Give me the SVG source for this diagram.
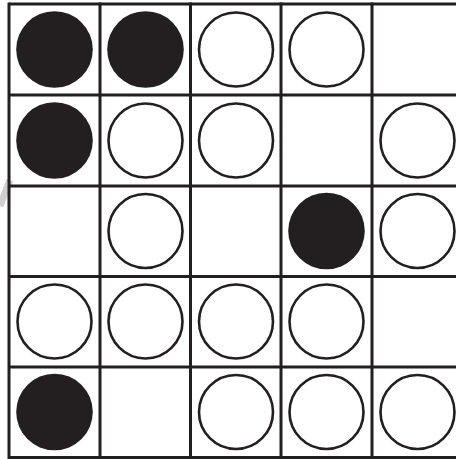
<svg xmlns="http://www.w3.org/2000/svg" width="456" height="459" viewBox="0 0 456 459">
<style>
.grid{stroke:#231f20;stroke-width:3;fill:none}
.b{fill:#231f20}
.w{fill:#fff;stroke:#231f20;stroke-width:2.6}
</style>
<rect width="456" height="459" fill="#fff"/>
<path d="M0,206 L10,180" stroke="#d0d0d0" stroke-width="7" fill="none"/>
<g id="grid" class="grid">
<path d="M9,4 H456 M9,95 H456 M9,186 H456 M9,276.5 H456 M9,367 H456 M9,457.5 H456"/>
<path d="M9,2.5 V459 M100,2.5 V459 M190.5,2.5 V459 M281,2.5 V459 M372,2.5 V459"/>
</g>
<g id="r1">
<circle class="b" cx="54.5" cy="49.5" r="38.3"/>
<circle class="b" cx="145.5" cy="49.5" r="38.3"/>
<circle class="w" cx="236" cy="49.5" r="37"/>
<circle class="w" cx="326.5" cy="49.5" r="37"/>
</g>
<g id="r2">
<circle class="b" cx="54.5" cy="140.5" r="38.3"/>
<circle class="w" cx="145.5" cy="140.5" r="37"/>
<circle class="w" cx="236" cy="140.5" r="37"/>
<circle class="w" cx="417.5" cy="140.5" r="37"/>
</g>
<g id="r3">
<circle class="w" cx="145.5" cy="231" r="37"/>
<circle class="b" cx="326.5" cy="231" r="38.3"/>
<circle class="w" cx="417.5" cy="231" r="37"/>
</g>
<g id="r4">
<circle class="w" cx="54.5" cy="321.5" r="37"/>
<circle class="w" cx="145.5" cy="321.5" r="37"/>
<circle class="w" cx="236" cy="321.5" r="37"/>
<circle class="w" cx="326.5" cy="321.5" r="37"/>
</g>
<g id="r5">
<circle class="b" cx="54.5" cy="412" r="38.3"/>
<circle class="w" cx="236" cy="412" r="37"/>
<circle class="w" cx="326.5" cy="412" r="37"/>
<circle class="w" cx="417.5" cy="412" r="37"/>
</g>
</svg>
